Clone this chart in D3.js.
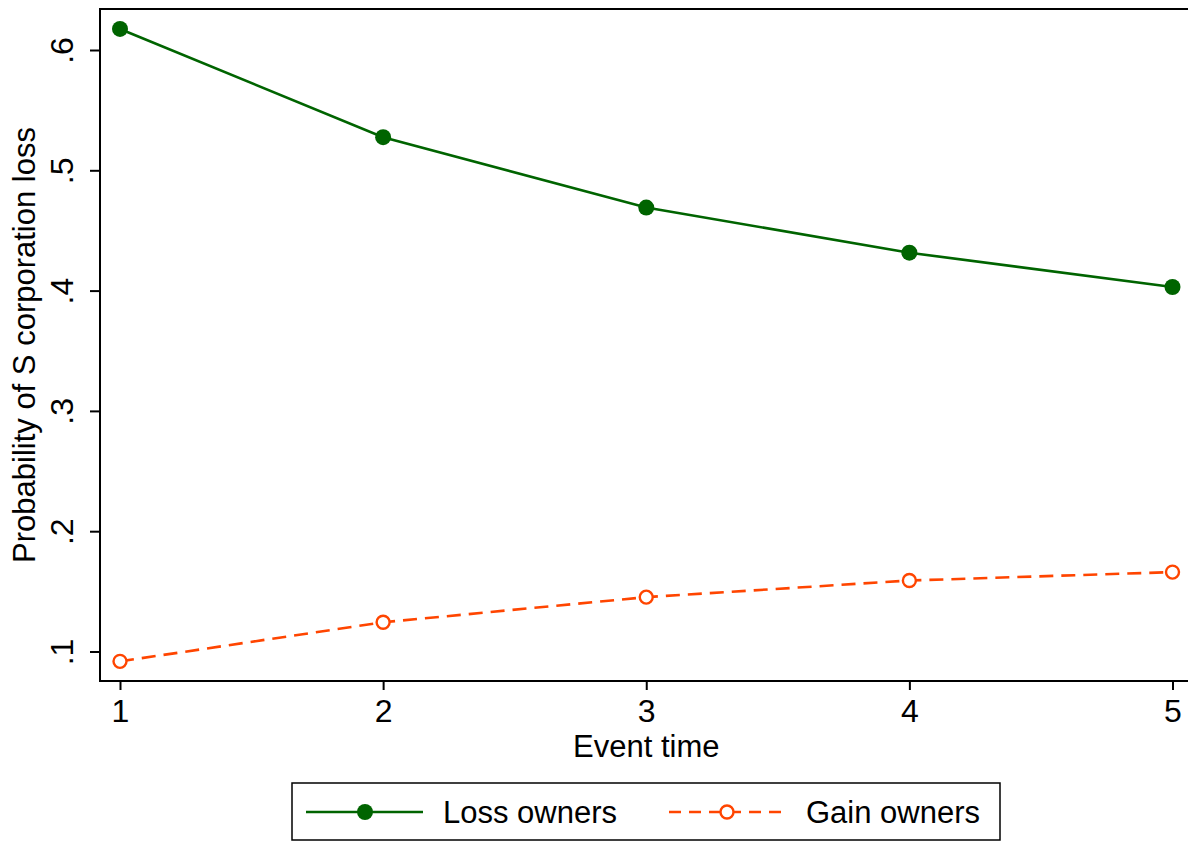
<!DOCTYPE html>
<html>
<head>
<meta charset="utf-8">
<script src="https://cdn.jsdelivr.net/npm/d3@7"></script>
<style>
  body { margin: 0; background: #fff; }
  svg { display: block; font-family: "Liberation Sans", Arial, sans-serif; }
</style>
</head>
<body>
<svg width="1188" height="842"></svg>
<script>
// data
const eventTime = [1, 2, 3, 4, 5];
const lossOwners = [0.6175, 0.5275, 0.4690, 0.4315, 0.4030];
const gainOwners = [0.0918, 0.1243, 0.1452, 0.1590, 0.1660];
const yTicks = [0.1, 0.2, 0.3, 0.4, 0.5, 0.6];
const yTickLabels = [".1", ".2", ".3", ".4", ".5", ".6"];

const svg = d3.select("svg");

const plot = { left: 100, top: 9, right: 1190, bottom: 681 };

let x = d3.scaleLinear().domain([1, 5]).range([120, 1172.5]);
let y = d3.scaleLinear().domain([0.1, 0.6]).range([651.5, 50]);

const green = "#006400";
const orange = "#ff4500";
const tickFont = 32;
const titleFont = 31;

// plot region frame
svg.append("rect")
    .attr("x", plot.left)
    .attr("y", plot.top)
    .attr("width", plot.right - plot.left)
    .attr("height", plot.bottom - plot.top)
    .attr("fill", "none")
    .attr("stroke", "#000")
    .attr("stroke-width", 2);

// y axis
const yAxis = d3.axisLeft(y)
    .tickValues(yTicks)
    .tickFormat((d, i) => yTickLabels[i])
    .tickSize(10)
    .tickPadding(10);

const gy = svg.append("g")
    .attr("transform", `translate(${plot.left},0)`)
    .call(yAxis);
gy.select(".domain").remove();
gy.selectAll(".tick line").attr("stroke", "#000").attr("stroke-width", 2);
gy.selectAll(".tick text")
    .attr("font-size", tickFont)
    .attr("fill", "#000")
    .attr("text-anchor", "middle")
    .attr("dy", null)
    .attr("x", null)
    .attr("transform", "translate(-27,0) rotate(-90)");

// x axis
const xAxis = d3.axisBottom(x)
    .tickValues(eventTime)
    .tickFormat(d3.format("d"))
    .tickSize(9)
    .tickPadding(9);

const gx = svg.append("g")
    .attr("transform", `translate(0,${plot.bottom})`)
    .call(xAxis);
gx.select(".domain").remove();
gx.selectAll(".tick line").attr("stroke", "#000").attr("stroke-width", 2);
gx.selectAll(".tick text")
    .attr("font-size", tickFont)
    .attr("fill", "#000");

// axis titles
svg.append("text")
    .attr("x", (x(1) + x(5)) / 2)
    .attr("y", 757)
    .attr("text-anchor", "middle")
    .attr("font-size", titleFont)
    .text("Event time");

svg.append("text")
    .attr("transform", `translate(35,${(plot.top + plot.bottom) / 2}) rotate(-90)`)
    .attr("text-anchor", "middle")
    .attr("font-size", titleFont)
    .text("Probability of S corporation loss");

// series
const line = d3.line().x((d, i) => x(eventTime[i])).y(d => y(d));

svg.append("path")
    .datum(lossOwners)
    .attr("d", line)
    .attr("fill", "none")
    .attr("stroke", green)
    .attr("stroke-width", 2.6);

svg.append("g")
    .selectAll("circle")
    .data(lossOwners)
    .enter().append("circle")
    .attr("cx", (d, i) => x(eventTime[i]))
    .attr("cy", d => y(d))
    .attr("r", 8)
    .attr("fill", green);

svg.append("path")
    .datum(gainOwners)
    .attr("d", line)
    .attr("fill", "none")
    .attr("stroke", orange)
    .attr("stroke-width", 2.6)
    .attr("stroke-dasharray", "14 8");

svg.append("g")
    .selectAll("circle")
    .data(gainOwners)
    .enter().append("circle")
    .attr("cx", (d, i) => x(eventTime[i]))
    .attr("cy", d => y(d))
    .attr("r", 6.5)
    .attr("fill", "#fff")
    .attr("stroke", orange)
    .attr("stroke-width", 2.4);

// legend
const legend = svg.append("g");
legend.append("rect")
    .attr("x", 292)
    .attr("y", 783)
    .attr("width", 708)
    .attr("height", 57)
    .attr("fill", "#fff")
    .attr("stroke", "#000")
    .attr("stroke-width", 1.5);

const legY = 812;
legend.append("line")
    .attr("x1", 306).attr("x2", 423)
    .attr("y1", legY).attr("y2", legY)
    .attr("stroke", green).attr("stroke-width", 2.6);
legend.append("circle")
    .attr("cx", 365).attr("cy", legY).attr("r", 8)
    .attr("fill", green);
legend.append("text")
    .attr("x", 443).attr("y", legY + 11)
    .attr("font-size", titleFont)
    .text("Loss owners");

legend.append("line")
    .attr("x1", 669).attr("x2", 786)
    .attr("y1", legY).attr("y2", legY)
    .attr("stroke", orange).attr("stroke-width", 2.6)
    .attr("stroke-dasharray", "12 8");
legend.append("circle")
    .attr("cx", 727).attr("cy", legY).attr("r", 6.5)
    .attr("fill", "#fff")
    .attr("stroke", orange).attr("stroke-width", 2.4);
legend.append("text")
    .attr("x", 806).attr("y", legY + 11)
    .attr("font-size", titleFont)
    .text("Gain owners");
</script>
</body>
</html>
